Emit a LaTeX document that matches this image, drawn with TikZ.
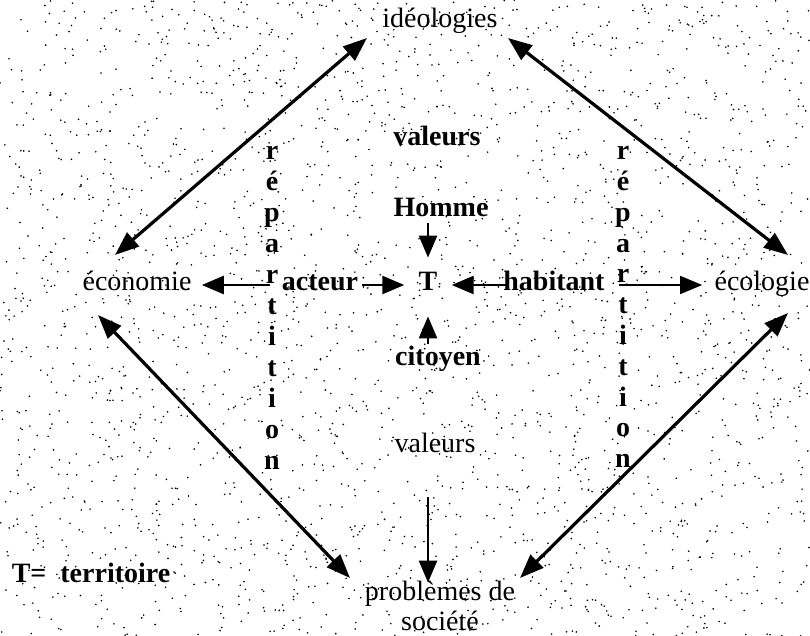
\documentclass[tikz,border=0pt]{standalone}
\usepackage{fontspec}
\setmainfont{Liberation Serif}
\usetikzlibrary{positioning, calc, arrows.meta}

\begin{document}
\begin{tikzpicture}[x=0.5pt, y=-0.5pt,
  mot/.style={inner sep=2pt, text height=1.5ex, text depth=0.25ex, font=\fontsize{14}{16}\selectfont},
  gras/.style={mot, font=\fontsize{14}{16}\selectfont\bfseries},
  fleche/.style={-{Triangle[length=11pt,width=9pt]}, line width=1.3pt},
  dfleche/.style={{Triangle[length=12pt,width=9pt]}-{Triangle[length=12pt,width=9pt]}, line width=1.6pt}]
  \useasboundingbox (0,0) rectangle (810,636);
  % fond pointille
  \pgfmathsetseed{7}
  \foreach \k in {1,...,2600}
    \fill ({810*rnd},{636*rnd}) circle (0.45pt);

  \node[mot] (ideo) at (440,22) {idéologies};
  \node[gras] (val1) at (437,140) {valeurs};
  \node[gras] (homme) at (441,211) {Homme};
  \node[gras] (t) at (428,285) {T};
  \node[mot] (eco) at (137,285) {économie};
  \node[gras] (acteur) at (320,285) {acteur};
  \node[gras] (hab) at (554,285) {habitant};
  \node[mot] (ecol) at (762,285) {écologie};
  \node[gras] (cit) at (438,360) {citoyen};
  \node[mot] (val2) at (435,447) {valeurs};
  \node[mot] (prob) at (440,595) {problèmes de};
  \node[mot] (soc) at (440,625) {société};
  \node[gras] (legende) at (91,577) {T= \ territoire};

  % repartition, deux colonnes
  \foreach \l [count=\i] in {r,é,p,a,r,t,i,t,i,o,n} {
    \node[gras, inner sep=0pt] (rg\i) at (272,{154+31*(\i-1)}) {\l};
    \node[gras, inner sep=0pt] (rd\i) at (623,{154+30.8*(\i-1)}) {\l};
  }

  \coordinate (ideoG) at (367,38);
  \coordinate (ecoH) at (115,255);
  \coordinate (ideoD) at (508,38);
  \coordinate (ecolH) at (788,255);
  \coordinate (ecoB) at (98,315);
  \coordinate (probG) at (350,578);
  \coordinate (ecolB) at (788,313);
  \coordinate (probD) at (520,578);

  \draw[dfleche] (ideoG) -- (ecoH);
  \draw[dfleche] (ideoD) -- (ecolH);
  \draw[dfleche] (ecoB) -- (probG);
  \draw[dfleche] (ecolB) -- (probD);

  \draw[fleche, shorten <=4pt, shorten >=3pt] (acteur.west) -- (eco.east);
  \draw[fleche, shorten >=5pt] (acteur.east) -- (t.west);
  \draw[fleche, shorten <=-4pt, shorten >=5pt] (hab.west) -- (t.east);
  \draw[fleche, line width=0.8pt, shorten <=5pt, shorten >=4pt] (hab.east) -- (ecol.west);
  \draw[fleche, shorten >=7.5pt] (homme.south -| t) -- (t.north);
  \draw[fleche, shorten <=2pt, shorten >=9.5pt] (cit.north -| t) -- (t.south);
  \draw[fleche, shorten <=19pt] (val2.south -| t) -- (prob.north -| t);
\end{tikzpicture}
\end{document}
